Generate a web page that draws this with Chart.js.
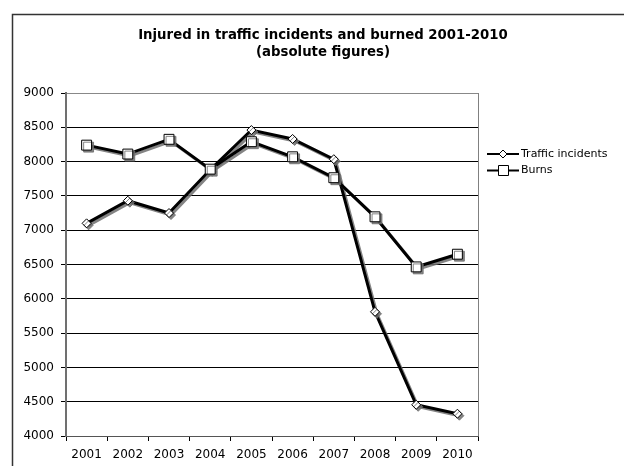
<!DOCTYPE html>
<html lang="en">
<head>
  <meta charset="UTF-8">
  <title>Injured in traffic incidents and burned 2001-2010</title>
  <style>
    body {
      margin: 0;
      background-color: #fff;
      font-family: "DejaVu Sans", Verdana, sans-serif;
    }
    .container {
      width: 624px;
      height: 466px;
    }
  </style>
</head>
<body>
  <div class="container">
    <canvas id="injuryChart" width="624" height="466"></canvas>
  </div>

  <script src="https://cdn.jsdelivr.net/npm/chart.js"></script>
  <script>
    const years = ['2001', '2002', '2003', '2004', '2005', '2006', '2007', '2008', '2009', '2010'];
    const trafficIncidents = [7100, 7430, 7250, 7880, 8460, 8330, 8035, 5810, 4455, 4325];
    const burns = [8240, 8110, 8325, 7890, 8290, 8070, 7765, 7195, 6465, 6650];
    const titleLines = ['Injured in traffic incidents and burned 2001-2010', '(absolute figures)'];
    const FONT = '"DejaVu Sans", Verdana, sans-serif';

    // grey drop shadow under each series, like the old office charts
    const shadowPlugin = {
      id: 'shadow',
      beforeDatasetDraw(chart) {
        const c = chart.ctx;
        c.save();
        c.shadowColor = 'rgba(110,110,110,0.85)';
        c.shadowOffsetX = 2;
        c.shadowOffsetY = 2;
        c.shadowBlur = 0;
      },
      afterDatasetDraw(chart) {
        chart.ctx.restore();
      }
    };

    // frame, plot border, title and legend
    const decorPlugin = {
      id: 'decor',
      beforeDatasetsDraw(chart) {
        const c = chart.ctx;
        const a = chart.chartArea;
        c.save();
        c.strokeStyle = '#808080';
        c.lineWidth = 1;
        c.beginPath();
        c.moveTo(Math.round(a.right) + 0.5, a.top);
        c.lineTo(Math.round(a.right) + 0.5, a.bottom);
        c.stroke();
        c.restore();
      },
      afterDraw(chart) {
        const c = chart.ctx;
        c.save();
        // outer frame
        c.strokeStyle = '#333';
        c.lineWidth = 1.5;
        c.strokeRect(12.5, 14.5, 700, 600);

        // title
        c.fillStyle = '#000';
        c.font = 'bold 13.3px ' + FONT;
        c.textAlign = 'center';
        c.textBaseline = 'middle';
        c.fillText(titleLines[0], 323, 36);
        c.fillText(titleLines[1], 323, 53);

        // legend
        c.font = '11px ' + FONT;
        c.textAlign = 'left';
        chart.data.datasets.forEach((ds, i) => {
          const y = 154 + i * 16.5;
          c.strokeStyle = '#000';
          c.lineWidth = 2;
          c.beginPath();
          c.moveTo(487, y);
          c.lineTo(519, y);
          c.stroke();
          c.fillStyle = '#fff';
          c.lineWidth = 1;
          c.beginPath();
          if (ds.pointStyle === 'rectRot') {
            c.moveTo(503, y - 4);
            c.lineTo(507, y);
            c.lineTo(503, y + 4);
            c.lineTo(499, y);
            c.closePath();
          } else {
            c.rect(498.5, y - 5, 10, 10);
          }
          c.fill();
          c.stroke();
          c.fillStyle = '#000';
          c.fillText(ds.label, 521, y);
        });
        c.restore();
      }
    };

    const ctx = document.getElementById('injuryChart').getContext('2d');
    const chart = new Chart(ctx, {
      type: 'line',
      data: {
        labels: years,
        datasets: [
          {
            label: 'Traffic incidents',
            data: trafficIncidents,
            borderColor: '#000',
            borderWidth: 3,
            pointStyle: 'rectRot',
            pointRadius: 4.5,
            pointBackgroundColor: '#fff',
            pointBorderColor: '#000',
            pointBorderWidth: 1,
            tension: 0,
            order: 1
          },
          {
            label: 'Burns',
            data: burns,
            borderColor: '#000',
            borderWidth: 3,
            pointStyle: 'rect',
            pointRadius: 7,
            pointBackgroundColor: '#fff',
            pointBorderColor: '#000',
            pointBorderWidth: 1,
            tension: 0,
            order: 0
          }
        ]
      },
      options: {
        responsive: false,
        animation: false,
        layout: {
          padding: { left: 0, top: 93, right: 146, bottom: 0 }
        },
        plugins: {
          legend: { display: false },
          title: { display: false },
          tooltip: { enabled: false }
        },
        scales: {
          x: {
            offset: true,
            grid: {
              offset: true,
              drawOnChartArea: false,
              tickLength: 5,
              color: '#000'
            },
            border: { color: '#555', width: 1 },
            ticks: {
              autoSkip: false,
              maxRotation: 0,
              padding: 7,
              color: '#000',
              font: { family: FONT, size: 12 }
            },
            afterFit(scale) {
              scale.height = 30;
            }
          },
          y: {
            min: 4000,
            max: 9000,
            ticks: {
              stepSize: 500,
              padding: 7,
              color: '#000',
              font: { family: FONT, size: 12 },
              callback: (v) => String(v)
            },
            grid: {
              tickLength: 5,
              color: (c) => (c.tick && c.tick.value === 9000 ? '#888' : '#000'),
              tickColor: '#000'
            },
            border: { color: '#707070', width: 2 },
            afterFit(scale) {
              scale.width = 66;
            }
          }
        }
      },
      plugins: [shadowPlugin, decorPlugin]
    });
  </script>
</body>
</html>
